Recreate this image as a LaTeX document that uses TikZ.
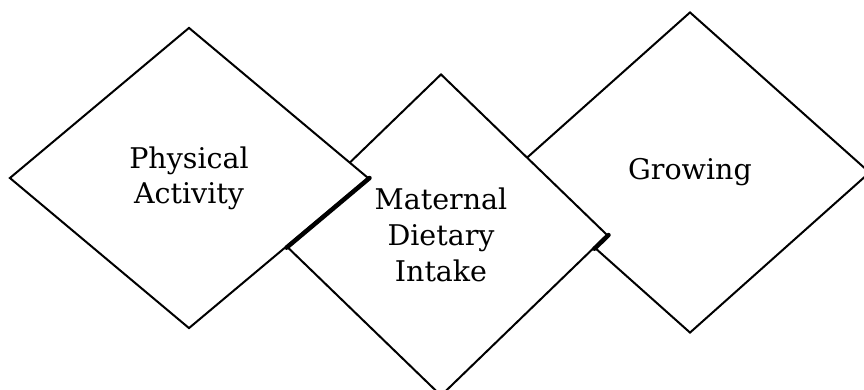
\documentclass[tikz,border=0pt]{standalone}
\usepackage{fontspec}
\setmainfont{DejaVu Serif}
\usetikzlibrary{shapes.geometric}
\begin{document}
\begin{tikzpicture}[x=1pt,y=-1pt,
  panel/.style={diamond, draw=black, fill=white, line width=2pt,
    inner sep=0pt, align=center, font=\fontsize{28.5}{36}\selectfont},
  seam/.style={line width=4.5pt, line cap=round}]
\useasboundingbox (0,0) rectangle (864,389);
\clip (0,0) rectangle (864,389);
% back to front: each panel hides the left corner of the one behind it
\node[panel, minimum width=360pt, minimum height=321pt] (grow) at (690,172.5) {Growing};
\node[panel, minimum width=333pt, minimum height=322pt] (diet) at (441,235) {Maternal\\Dietary\\Intake};
\node[panel, minimum width=359pt, minimum height=301pt,
  font=\fontsize{28.5}{35}\selectfont] (phys) at (189,178) {Physical\\Activity};
% heavy seams where one panel's lower-right edge meets the panel behind
\draw[seam] (phys.east) -- (intersection of phys.east--phys.south and diet.west--diet.south);
\draw[seam] (diet.east) -- (intersection of diet.east--diet.south and grow.west--grow.south);
\end{tikzpicture}
\end{document}
